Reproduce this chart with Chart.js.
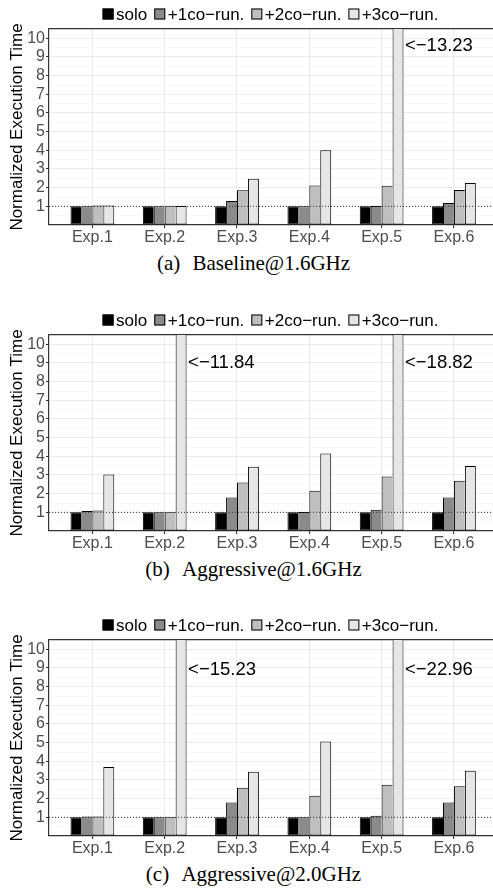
<!DOCTYPE html>
<html><head><meta charset="utf-8">
<script src="https://cdn.jsdelivr.net/npm/chart.js@4.4.1/dist/chart.umd.min.js"></script>
<style>
html,body{margin:0;padding:0;background:#fff;}
#page{position:relative;width:493px;height:890px;overflow:hidden;background:#fff;}
canvas{position:absolute;left:0;}
.cap{position:absolute;left:0;width:507px;text-align:center;font-family:"Liberation Serif","Times New Roman",serif;font-size:21px;line-height:24px;color:#000;white-space:nowrap;}
</style></head><body>
<div id="page">
<canvas id="c0" width="540" height="250" style="top:0px"></canvas>
<div class="cap" style="top:251px">(a) <span style="margin-left:7px">Baseline@1.6GHz</span></div>
<canvas id="c1" width="540" height="250" style="top:306px"></canvas>
<div class="cap" style="top:557px">(b) <span style="margin-left:7px">Aggressive@1.6GHz</span></div>
<canvas id="c2" width="540" height="250" style="top:611px"></canvas>
<div class="cap" style="top:862px">(c) <span style="margin-left:7px">Aggressive@2.0GHz</span></div>
</div>
<script>
// ---- data ----
const categories = ['Exp.1','Exp.2','Exp.3','Exp.4','Exp.5','Exp.6'];
const seriesNames = ['solo','+1co\u2212run.','+2co\u2212run.','+3co\u2212run.'];
const yTickLabels = ['1','2','3','4','5','6','7','8','9','10'];
const yMax = 10.5;
const refLine = 1;

// (a) Baseline@1.6GHz
const baselineSolo  = [1.00, 1.00, 1.00, 1.00, 1.00, 1.00];
const baselinePlus1 = [1.00, 1.00, 1.29, 1.00, 1.02, 1.18];
const baselinePlus2 = [1.05, 1.00, 1.86, 2.12, 2.10, 1.88];
const baselinePlus3 = [1.05, 1.02, 2.48, 4.00, 13.23, 2.25];
const baselineLabelY = 9.6;

// (b) Aggressive@1.6GHz
const aggr16Solo  = [1.00, 1.00, 1.00, 1.00, 1.00, 1.00];
const aggr16Plus1 = [1.07, 1.00, 1.80, 1.02, 1.14, 1.80];
const aggr16Plus2 = [1.10, 1.00, 2.60, 2.16, 2.92, 2.69];
const aggr16Plus3 = [3.03, 11.84, 3.44, 4.15, 18.82, 3.48];
const aggr16LabelY = 9.0;

// (c) Aggressive@2.0GHz
const aggr20Solo  = [1.00, 1.00, 1.00, 1.00, 1.00, 1.00];
const aggr20Plus1 = [1.05, 1.00, 1.79, 1.00, 1.09, 1.79];
const aggr20Plus2 = [1.05, 1.00, 2.59, 2.16, 2.75, 2.66];
const aggr20Plus3 = [3.69, 15.23, 3.44, 5.06, 22.96, 3.50];
const aggr20LabelY = 8.9;

// ---- styling ----
const FONT = '"Liberation Sans", Arial, Helvetica, sans-serif';
Chart.defaults.font.family = FONT;
const fills = ['#000000','#8b8b8b','#bfbfbf','#e6e6e6'];
const xMin = 0.4, xMax = 7.19;

// legend drawn compactly (box right next to its text, as in ggplot)
const compactLegend = {
  id: 'compactLegend',
  afterDraw(chart, args, o) {
    const ctx = chart.ctx;
    ctx.save();
    ctx.font = '17px ' + FONT;
    const box = 11, gapIn = 2.5, gapOut = 7;
    const widths = seriesNames.map(n => ctx.measureText(n).width);
    const total = widths.reduce((a, w) => a + box + gapIn + w, 0) + gapOut * (seriesNames.length - 1);
    let x = o.centerX - total / 2;
    seriesNames.forEach((n, k) => {
      ctx.fillStyle = fills[k];
      ctx.fillRect(x, o.boxTop, box, box);
      ctx.strokeStyle = '#000'; ctx.lineWidth = 1;
      ctx.strokeRect(x + 0.5, o.boxTop + 0.5, box - 1, box - 1);
      ctx.fillStyle = '#000'; ctx.textAlign = 'left'; ctx.textBaseline = 'alphabetic';
      ctx.fillText(n, x + box + gapIn, o.baseline);
      x += box + gapIn + widths[k] + gapOut;
    });
    ctx.restore();
  }
};

const clipLabels = {
  id: 'clipLabels',
  afterDatasetsDraw(chart, args, opts) {
    const ctx = chart.ctx;
    const ys = chart.scales.y;
    ctx.save();
    ctx.fillStyle = '#000';
    ctx.font = '18.5px ' + FONT;
    ctx.textAlign = 'left';
    ctx.textBaseline = 'middle';
    opts.series.forEach((vals, k) => {
      vals.forEach((v, i) => {
        if (v > yMax) {
          const bar = chart.getDatasetMeta(k).data[i];
          ctx.fillText('<\u2212' + v.toFixed(2), bar.x + bar.width / 2 + 1.5, ys.getPixelForValue(opts.labelY));
        }
      });
    });
    ctx.restore();
  }
};

function makeChart(id, series, labelY) {
  const datasets = series.map((vals, k) => ({
    type: 'bar',
    label: seriesNames[k],
    data: vals.map((v, i) => ({x: i + 1, y: v})),
    backgroundColor: fills[k],
    borderColor: '#000',
    borderWidth: k < 3 ? {top: 1, left: 1, bottom: 1, right: 0} : 1,
    borderSkipped: false,
    inflateAmount: 0,
    categoryPercentage: 0.605,
    barPercentage: 1,
    order: 1
  }));
  datasets.push({
    type: 'line', label: 'ref',
    data: [{x: xMin, y: refLine}, {x: xMax, y: refLine}],
    borderColor: '#333', borderWidth: 1, borderDash: [1, 2],
    pointRadius: 0, fill: false, order: 0
  });
  const isLab = v => Number.isInteger(v) && v >= 1 && v <= yTickLabels.length;
  return new Chart(document.getElementById(id), {
    type: 'bar',
    data: {datasets},
    options: {
      responsive: false, animation: false, events: [],
      layout: {padding: {top: 29, left: 0, right: 0, bottom: 0}},
      plugins: {
        tooltip: {enabled: false},
        legend: {display: false},
        compactLegend: {centerX: 270.5, boxTop: 8.5, baseline: 19.5},
        clipLabels: {series, labelY}
      },
      scales: {
        x: {
          type: 'linear', min: xMin, max: xMax, offset: false,
          afterBuildTicks: s => { s.ticks = categories.map((c, i) => ({value: i + 1})); },
          afterFit: s => { s.height = 25; },
          ticks: {
            callback: v => categories[v - 1],
            autoSkip: false, maxRotation: 0, minRotation: 0,
            color: '#4d4d4d', font: {size: 16}, padding: 0
          },
          grid: {offset: false, color: '#ebebeb', lineWidth: 1.1, tickLength: 3, tickColor: '#333', tickWidth: 1.1},
          border: {display: true, color: '#333', width: 1.2}
        },
        y: {
          type: 'linear', min: 0, max: yMax,
          afterBuildTicks: s => {
            const t = [];
            for (let v = 0; v <= yMax + 1e-9; v += 0.5) t.push({value: v});
            s.ticks = t;
          },
          afterFit: s => { s.width = 49; },
          ticks: {
            callback: v => isLab(v) ? yTickLabels[v - 1] : '',
            autoSkip: false, color: '#4d4d4d', font: {size: 16}, padding: 1
          },
          grid: {
            color: c => { const v = c.tick.value; if (v === yMax) return '#333'; if (v === 0) return 'rgba(0,0,0,0)'; return Number.isInteger(v) ? '#ebebeb' : '#f3f3f3'; },
            lineWidth: c => { const v = c.tick.value; if (v === yMax) return 1.2; return Number.isInteger(v) ? 1.1 : 0.7; },
            tickColor: c => isLab(c.tick.value) ? '#333' : 'rgba(0,0,0,0)',
            tickLength: 3, tickWidth: 1.1
          },
          border: {display: true, color: '#333', width: 1.2},
          title: {display: true, text: 'Normalized Execution Time', color: '#000', font: {size: 17}, padding: {top: 7.3, bottom: 0}}
        }
      }
    },
    plugins: [clipLabels, compactLegend]
  });
}

makeChart('c0', [baselineSolo, baselinePlus1, baselinePlus2, baselinePlus3], baselineLabelY);
makeChart('c1', [aggr16Solo, aggr16Plus1, aggr16Plus2, aggr16Plus3], aggr16LabelY);
makeChart('c2', [aggr20Solo, aggr20Plus1, aggr20Plus2, aggr20Plus3], aggr20LabelY);
</script>
</body></html>
